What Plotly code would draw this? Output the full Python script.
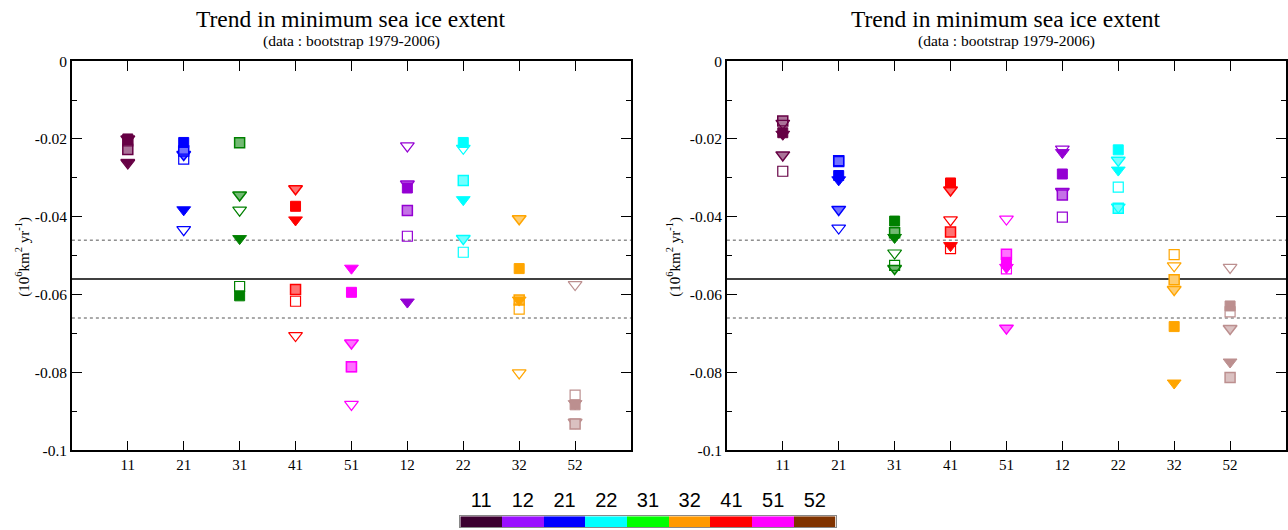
import plotly.graph_objects as go

# ---------------- data ----------------
categories = ["11", "21", "31", "41", "51", "12", "22", "32", "52"]
cat_pos = [1, 2, 3, 4, 5, 6, 7, 8, 9]
cat_colors = ["#660044", "#0000ff", "#008000", "#ff0000", "#ff00ff",
              "#9400d3", "#00ffff", "#ffa500", "#bc8f8f"]

# left panel
filled_sq_L = [-0.0200, -0.0209, -0.0603, -0.0373, -0.0594, -0.0326, -0.0209, -0.0533, -0.0883]
open_sq_L = [-0.0205, -0.0252, -0.0579, -0.0617, -0.0785, -0.0450, -0.0491, -0.0637, -0.0858]
hatch_sq_L = [-0.0227, -0.0231, -0.0210, -0.0587, -0.0785, -0.0384, -0.0307, -0.0614, -0.0932]
filled_tri_L = [-0.0260, -0.0382, -0.0456, -0.0408, -0.0532, -0.0619, -0.0356, -0.0614, -0.0880]
open_tri_L = [-0.0262, -0.0433, -0.0383, -0.0705, -0.0882, -0.0218, -0.0224, -0.0801, -0.0574]
hatch_tri_L = [-0.0200, -0.0240, -0.0344, -0.0328, -0.0724, -0.0316, -0.0456, -0.0405, -0.0928]

# right panel
filled_sq_R = [-0.0184, -0.0294, -0.0411, -0.0313, -0.0517, -0.0290, -0.0228, -0.0682, -0.0629]
open_sq_R = [-0.0283, -0.0258, -0.0525, -0.0482, -0.0534, -0.0401, -0.0324, -0.0497, -0.0644]
hatch_sq_R = [-0.0154, -0.0256, -0.0441, -0.0439, -0.0496, -0.0344, -0.0378, -0.0562, -0.0813]
filled_tri_R = [-0.0188, -0.0305, -0.0453, -0.0474, -0.0530, -0.0235, -0.0280, -0.0827, -0.0773]
open_tri_R = [-0.0160, -0.0429, -0.0493, -0.0408, -0.0406, -0.0226, -0.0375, -0.0526, -0.0530]
hatch_tri_R = [-0.0241, -0.0381, -0.0533, -0.0331, -0.0686, -0.0335, -0.0255, -0.0587, -0.0687]

ref_mean = -0.056
ref_band = [-0.046, -0.066]

y_ticks = [0, -0.02, -0.04, -0.06, -0.08, -0.1]
y_tick_labels = ["0", "-0.02", "-0.04", "-0.06", "-0.08", "-0.1"]

cbar_labels = ["11", "12", "21", "22", "31", "32", "41", "51", "52"]
cbar_colors = ["#3c0030", "#9a10ff", "#0000ff", "#00ffff", "#00ff00",
               "#ff9900", "#ff0000", "#ff00ff", "#803300"]

title_text = "Trend in minimum sea ice extent"
subtitle_text = "(data : bootstrap 1979-2006)"
ytitle_text = "(10<sup>6</sup>km<sup>2</sup> yr<sup>-1</sup>)"


def tint(hexc, f=0.45):
    h = hexc.lstrip("#")
    r, g, b = int(h[0:2], 16), int(h[2:4], 16), int(h[4:6], 16)
    r = int(r + (255 - r) * f)
    g = int(g + (255 - g) * f)
    b = int(b + (255 - b) * f)
    return "#%02x%02x%02x" % (r, g, b)


hatch_colors = [tint(c) for c in cat_colors]

fig = go.Figure()

panels = [
    ("x", "y", filled_sq_L, open_sq_L, hatch_sq_L, filled_tri_L, open_tri_L, hatch_tri_L),
    ("x2", "y2", filled_sq_R, open_sq_R, hatch_sq_R, filled_tri_R, open_tri_R, hatch_tri_R),
]

for xa, ya, fsq, osq, hsq, ftri, otri, htri in panels:
    fig.add_trace(go.Scatter(x=cat_pos, y=htri, mode="markers", xaxis=xa, yaxis=ya,
                             marker=dict(symbol="triangle-down", size=12, color=hatch_colors,
                                         line=dict(color=cat_colors, width=1.5))))
    fig.add_trace(go.Scatter(x=cat_pos, y=hsq, mode="markers", xaxis=xa, yaxis=ya,
                             marker=dict(symbol="square", size=10, color=hatch_colors,
                                         line=dict(color=cat_colors, width=1.5))))
    fig.add_trace(go.Scatter(x=cat_pos, y=ftri, mode="markers", xaxis=xa, yaxis=ya,
                             marker=dict(symbol="triangle-down", size=12, color=cat_colors,
                                         line=dict(color=cat_colors, width=1))))
    fig.add_trace(go.Scatter(x=cat_pos, y=fsq, mode="markers", xaxis=xa, yaxis=ya,
                             marker=dict(symbol="square", size=10, color=cat_colors,
                                         line=dict(color=cat_colors, width=1))))
    fig.add_trace(go.Scatter(x=cat_pos, y=otri, mode="markers", xaxis=xa, yaxis=ya,
                             marker=dict(symbol="triangle-down-open", size=12, color=cat_colors,
                                         line=dict(color=cat_colors, width=1.2))))
    fig.add_trace(go.Scatter(x=cat_pos, y=osq, mode="markers", xaxis=xa, yaxis=ya,
                             marker=dict(symbol="square-open", size=10, color=cat_colors,
                                         line=dict(color=cat_colors, width=1.2))))

# colour bar
fig.add_trace(go.Heatmap(z=[list(range(len(cbar_labels)))], x=list(range(len(cbar_labels))),
                         xaxis="x3", yaxis="y3", zmin=0, zmax=len(cbar_labels) - 1,
                         colorscale=[[i / (len(cbar_colors) - 1), c] for i, c in enumerate(cbar_colors)],
                         showscale=False, hoverinfo="skip"))

W, H = 1288, 546
A_OFF, B_SCALE = 7.8, 0.9707   # observed vertical mapping of the photographed page
serif = "Liberation Serif"


def py(y):
    """target pixel row in the photo -> paper fraction"""
    yf = (y - A_OFF) / B_SCALE
    return min(1.0, max(0.0, 1 - yf / H))


def xax(dom):
    return dict(domain=dom, range=[0, 10], tickvals=cat_pos, ticktext=categories,
                ticks="inside", ticklen=10, tickwidth=1, tickcolor="black",
                showline=True, linecolor="black", linewidth=1.5, mirror="ticks",
                showgrid=False, zeroline=False,
                tickfont=dict(family=serif, size=15, color="black"))


def yax(anchor):
    return dict(domain=[py(450), py(60)], range=[-0.1, 0], anchor=anchor,
                tickvals=y_ticks, ticktext=y_tick_labels,
                ticks="inside", ticklen=10, tickwidth=1, tickcolor="black",
                showline=True, linecolor="black", linewidth=1.5, mirror="ticks",
                showgrid=False, zeroline=False,
                tickfont=dict(family=serif, size=15.5, color="black"),
                minor=dict(ticks="inside", ticklen=5, dtick=0.01, tickcolor="black", showgrid=False))


xl = [72 / W, 632 / W]
xr = [728 / W, 1.0]

fig.update_layout(
    width=W, height=H, autosize=False,
    margin=dict(l=0, r=0, t=0, b=0),
    paper_bgcolor="white", plot_bgcolor="white",
    showlegend=False,
    xaxis=dict(**xax(xl), anchor="y"),
    yaxis=yax("x"),
    xaxis2=dict(**xax(xr), anchor="y2"),
    yaxis2=yax("x2"),
    xaxis3=dict(domain=[461 / W, 837 / W], anchor="y3", range=[-0.5, len(cbar_labels) - 0.5],
                side="top", tickvals=list(range(len(cbar_labels))), ticktext=cbar_labels,
                ticks="", ticklabelstandoff=0, showgrid=False, zeroline=False,
                showline=True, mirror=True, linecolor="#888888", linewidth=1,
                tickfont=dict(family="Liberation Sans", size=20, color="black")),
    yaxis3=dict(domain=[py(527), py(516)], anchor="x3", range=[-0.5, 0.5],
                showticklabels=False, ticks="", showgrid=False, zeroline=False,
                showline=True, mirror=True, linecolor="#888888", linewidth=1),
)

shapes = []
for xa, ya in (("x", "y"), ("x2", "y2")):
    shapes.append(dict(type="line", xref=xa + " domain", yref=ya, x0=0, x1=1,
                       y0=ref_mean, y1=ref_mean, line=dict(color="black", width=1.5), layer="below"))
    for v in ref_band:
        shapes.append(dict(type="line", xref=xa + " domain", yref=ya, x0=0, x1=1,
                           y0=v, y1=v, line=dict(color="#555555", width=1, dash="dot"), layer="below"))
fig.update_layout(shapes=shapes)

annotations = []
for cx, ytx in ((352 / W, 23 / W), (1008 / W, 675 / W)):
    annotations.append(dict(text=title_text, x=cx, y=py(18), xref="paper", yref="paper",
                            xanchor="center", yanchor="middle", showarrow=False,
                            font=dict(family=serif, size=23.5, color="black")))
    annotations.append(dict(text=subtitle_text, x=cx, y=py(40), xref="paper", yref="paper",
                            xanchor="center", yanchor="middle", showarrow=False,
                            font=dict(family=serif, size=15.5, color="black")))
    annotations.append(dict(text=ytitle_text, x=ytx, y=py(256), xref="paper", yref="paper",
                            xanchor="center", yanchor="middle", showarrow=False, textangle=-90,
                            font=dict(family=serif, size=15, color="black")))
fig.update_layout(annotations=annotations)

fig.write_html("out.html")
